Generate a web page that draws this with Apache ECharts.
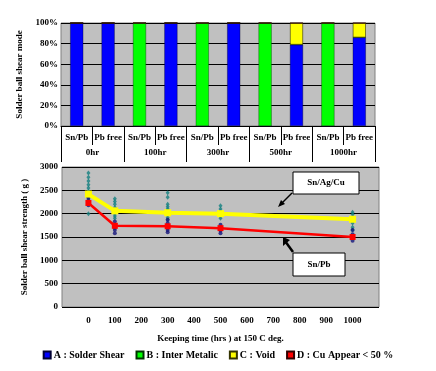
<!DOCTYPE html>
<html><head><meta charset="utf-8">
<script src="https://cdn.jsdelivr.net/npm/echarts@6/dist/echarts.min.js"></script>
<style>html,body{margin:0;padding:0;background:#fff}#c{width:436px;height:371px}</style>
</head><body><div id="c"></div>
<script>
// ---- Top chart: shear mode ----
var barCats = ['Sn/Pb','Pb free','Sn/Pb','Pb free','Sn/Pb','Pb free','Sn/Pb','Pb free','Sn/Pb','Pb free'];
var groupCats = ['0hr','100hr','300hr','500hr','1000hr'];
var modeA = [100,100,0,100,0,100,0,79,0,86];   // Solder Shear
var modeB = [0,0,100,0,100,0,100,0,100,0];     // Inter Metalic
var modeC = [0,0,0,0,0,0,0,21,0,14];           // Void
var modeD = [0,0,0,0,0,0,0,0,0,0];             // Cu Appear < 50 %
var legendNames = ['A : Solder Shear','B : Inter Metalic','C : Void','D : Cu Appear < 50 %'];

// ---- Bottom chart: shear strength ----
var hours = [0,100,300,500,1000];
var snAgCu = [2420,2060,2020,2000,1880];
var snPb = [2230,1740,1730,1690,1500];
var xTicks = [0,100,200,300,400,500,600,700,800,900,1000];
var leadFreePts = [
  [2870,2780,2700,2620,2550,2480,2400,2330,2000],
  [2320,2260,2200,2130,2060,2000,1950,1900],
  [2450,2350,2200,2150,2100,2050,1980,1920,1870],
  [2170,2100,2050,1950,1900],
  [2030,1980,1900,1800,1710,1650]
];
var snPbPts = [
  [2350,2280,2230,2180],
  [1830,1760,1700,1650,1580],
  [1870,1800,1700,1650,1600],
  [1760,1700,1640,1580],
  [1650,1560,1480,1420]
];

function pairs(xs, ys){ return xs.map(function(x,i){return [x, ys[i]];}); }
function cloud(pts){ var out=[]; pts.forEach(function(arr,i){ arr.forEach(function(v){ out.push([hours[i], v]); }); }); return out; }

var F = '"Liberation Serif", "DejaVu Serif", serif';
var txt = {fontFamily:F, fontWeight:'bold', color:'#000', fontSize:9};

var chart = echarts.init(document.getElementById('c'), null, {renderer:'canvas'});
chart.setOption({
  animation:false,
  textStyle:{fontFamily:F},
  grid:[
    {left:61, right:61, top:23, height:103, show:true, backgroundColor:'#c0c0c0', borderColor:'#808080', borderWidth:1},
    {left:62, right:57, top:167, height:140, show:true, backgroundColor:'#c0c0c0', borderColor:'#808080', borderWidth:1}
  ],
  legend:{
    data: legendNames.map(function(n){return {name:n, icon:'rect'};}),
    bottom:6, left:'center', itemWidth:7, itemHeight:7, itemGap:11,
    textStyle:{fontFamily:F, fontWeight:'bold', fontSize:10, color:'#000', padding:[0,0,0,-2]},
    selectedMode:false
  },
  xAxis:[
    {type:'category', gridIndex:0, data:barCats, position:'bottom',
     axisLine:{show:true, lineStyle:{color:'#000'}},
     axisTick:{show:true, length:19, interval:0, lineStyle:{color:'#000'}},
     axisLabel:Object.assign({interval:0, margin:7}, txt)},
    {type:'category', gridIndex:0, data:groupCats, position:'bottom',
     axisLine:{show:false},
     axisTick:{show:true, length:36, interval:0, lineStyle:{color:'#000'}},
     axisLabel:Object.assign({interval:0, margin:22}, txt)},
    {type:'value', gridIndex:1, min:-100, max:1100, interval:100,
     axisLine:{show:false}, axisTick:{show:false}, splitLine:{show:false},
     axisLabel:Object.assign({margin:9, formatter:function(v){return xTicks.indexOf(v)>=0? String(v):'';}}, txt),
     name:'Keeping time (hrs ) at 150 C deg.', nameLocation:'middle', nameGap:27,
     nameTextStyle:{fontFamily:F, fontWeight:'bold', fontSize:9, color:'#000'}}
  ],
  yAxis:[
    {type:'value', gridIndex:0, min:0, max:100, interval:20,
     axisLine:{show:false}, axisTick:{show:false},
     splitLine:{show:true, lineStyle:{color:'#000', width:1}},
     axisLabel:Object.assign({formatter:'{value}%', margin:3}, txt),
     name:'Solder ball shear mode', nameLocation:'middle', nameGap:36, nameRotate:90,
     nameTextStyle:{fontFamily:F, fontWeight:'bold', fontSize:9, color:'#000'}},
    {type:'value', gridIndex:1, min:0, max:3000, interval:500,
     axisLine:{show:false}, axisTick:{show:false},
     splitLine:{show:true, lineStyle:{color:'#000', width:1}},
     axisLabel:Object.assign({margin:4, formatter:function(v){return String(v);}}, txt),
     name:'Solder ball shear strength ( g )', nameLocation:'middle', nameGap:33, nameRotate:90,
     nameTextStyle:{fontFamily:F, fontWeight:'bold', fontSize:9, color:'#000'}}
  ],
  series:[
    {name:legendNames[0], type:'bar', xAxisIndex:0, yAxisIndex:0, stack:'m', barWidth:13, data:modeA,
     itemStyle:{color:'#0000ff', borderColor:'#000033', borderWidth:0.4}},
    {name:legendNames[1], type:'bar', xAxisIndex:0, yAxisIndex:0, stack:'m', barWidth:13, data:modeB,
     itemStyle:{color:'#00ff00', borderColor:'#003300', borderWidth:0.4}},
    {name:legendNames[2], type:'bar', xAxisIndex:0, yAxisIndex:0, stack:'m', barWidth:13, data:modeC,
     itemStyle:{color:'#ffff00', borderColor:'#333300', borderWidth:0.6}},
    {name:legendNames[3], type:'bar', xAxisIndex:0, yAxisIndex:0, stack:'m', barWidth:13, data:modeD,
     itemStyle:{color:'#ff0000', borderColor:'#330000', borderWidth:0.6}},
    {name:'Sn/Ag/Cu pts', type:'scatter', xAxisIndex:2, yAxisIndex:1, data:cloud(leadFreePts),
     symbol:'diamond', symbolSize:[4,5], itemStyle:{color:'#138080'}, z:2},
    {name:'Sn/Pb pts', type:'scatter', xAxisIndex:2, yAxisIndex:1, data:cloud(snPbPts),
     symbol:'circle', symbolSize:4, itemStyle:{color:'#14147a'}, z:2},
    {name:'Sn/Ag/Cu', type:'line', xAxisIndex:2, yAxisIndex:1, data:pairs(hours, snAgCu),
     symbol:'rect', symbolSize:7, lineStyle:{color:'#ffff00', width:4}, itemStyle:{color:'#ffff00'}, z:3},
    {name:'Sn/Pb', type:'line', xAxisIndex:2, yAxisIndex:1, data:pairs(hours, snPb),
     symbol:'rect', symbolSize:6, lineStyle:{color:'#ff0000', width:2.5}, itemStyle:{color:'#ff0000'}, z:3}
  ],
  graphic:[
    {type:'rect', shape:{x:293, y:172, width:66, height:22}, style:{fill:'#fff', stroke:'#000', lineWidth:1}, z:10},
    {type:'text', x:326, y:183, style:{text:'Sn/Ag/Cu', align:'center', verticalAlign:'middle', font:'bold 9px '+F, fill:'#000'}, z:11},
    {type:'line', shape:{x1:292, y1:193, x2:280, y2:205}, style:{stroke:'#000', lineWidth:1.5}, z:10},
    {type:'polygon', shape:{points:[[278,207],[285,204],[281,200]]}, style:{fill:'#000'}, z:10},
    {type:'rect', shape:{x:293, y:253, width:52, height:23}, style:{fill:'#fff', stroke:'#000', lineWidth:1}, z:10},
    {type:'text', x:319, y:265, style:{text:'Sn/Pb', align:'center', verticalAlign:'middle', font:'bold 9px '+F, fill:'#000'}, z:11},
    {type:'line', shape:{x1:293, y1:252, x2:285, y2:241}, style:{stroke:'#000', lineWidth:2.5}, z:10},
    {type:'polygon', shape:{points:[[283,237],[283,246],[290,240]]}, style:{fill:'#000'}, z:10}
  ]
});
</script></body></html>
